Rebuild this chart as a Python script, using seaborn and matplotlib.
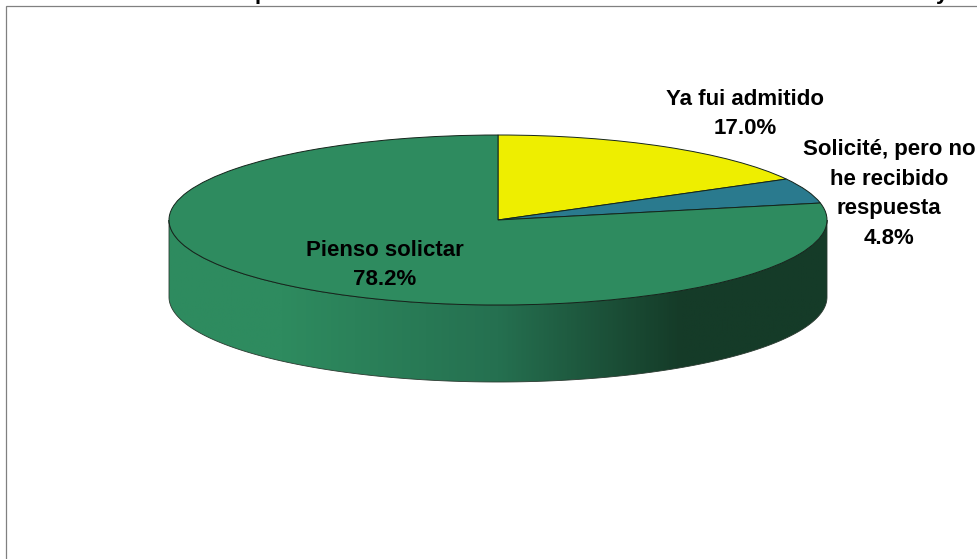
import numpy as np
import matplotlib
matplotlib.use("Agg")
import matplotlib.pyplot as plt
from matplotlib.colors import LinearSegmentedColormap
from matplotlib.patches import Polygon, Rectangle
import seaborn as sns

# Data
categories = ["Ya fui admitido", "Solicité, pero no\nhe recibido\nrespuesta", "Pienso solictar"]
values = [17.0, 4.8, 78.2]
colors = ["#EEEE00", "#2A7A8E", "#2E8B5F"]

sns.set_theme(style="white")
plt.rcParams['font.family'] = ['Liberation Sans', 'DejaVu Sans']

W, H = 977, 559
CX, CY, RX, RY, DEPTH = 498, 220, 329, 85, 77

fig = plt.figure(figsize=(W / 100, H / 100), dpi=100)
ax = fig.add_axes([0, 0, 1, 1])

# one pie radius = RX px across, RY px up, so the pie gets squashed into an ellipse
ax.pie(values, colors=colors, startangle=90, counterclock=False, radius=1,
       wedgeprops=dict(edgecolor="#14241b", linewidth=0.7, zorder=3))
depth = DEPTH / RY

# side wall of the disc, gradient clipped to the lower rim
wall_cmap = LinearSegmentedColormap.from_list("wall", [
    (0.0, "#2E8B5F"), (0.17, "#2E8B5F"), (0.5, "#257050"),
    (0.78, "#153B28"), (1.0, "#153B28")])
im = ax.imshow(np.linspace(0, 1, 400).reshape(1, -1), cmap=wall_cmap, aspect="auto",
               extent=(-1, 1, -1 - depth, 0), zorder=1)
t = np.linspace(np.pi, 2 * np.pi, 300)
rim = np.column_stack([np.cos(t), np.sin(t)])
low = rim - [0, depth]
outline = np.vstack([rim, low[::-1]])
wall = Polygon(outline, closed=True, transform=ax.transData, facecolor="none",
               edgecolor="#2a3a30", linewidth=0.6, zorder=2)
ax.add_patch(wall)
im.set_clip_path(wall)

# pixel mapping
ax.set_aspect("auto")
ax.set_xlim(-CX / RX, (W - CX) / RX)
ax.set_ylim((CY - H) / RY, CY / RY)
ax.axis("off")


def label(i, px, py):
    ax.text((px - CX) / RX, (CY - py) / RY, f"{categories[i]}\n{values[i]:.1f}%",
            ha="center", va="center", fontsize=16, fontweight="bold",
            color="black", linespacing=1.54, zorder=5)


label(0, 745, 114)
label(1, 889, 194)
label(2, 385, 265)

# chart area border, runs off the top right
fig.add_artist(Rectangle((6 / W, -0.1), 1.1, (H - 6) / H + 0.1, transform=fig.transFigure,
                         facecolor="none", edgecolor="#808080", linewidth=0.9))

# bottom of the clipped title
for ch, px in [("p", 261), ("y", 942)]:
    fig.text(px / W, 1.0 + 1.5 / H, ch, ha="center", va="baseline", fontsize=16, fontweight="bold", color="black")

fig.savefig("out.png", dpi=100)
